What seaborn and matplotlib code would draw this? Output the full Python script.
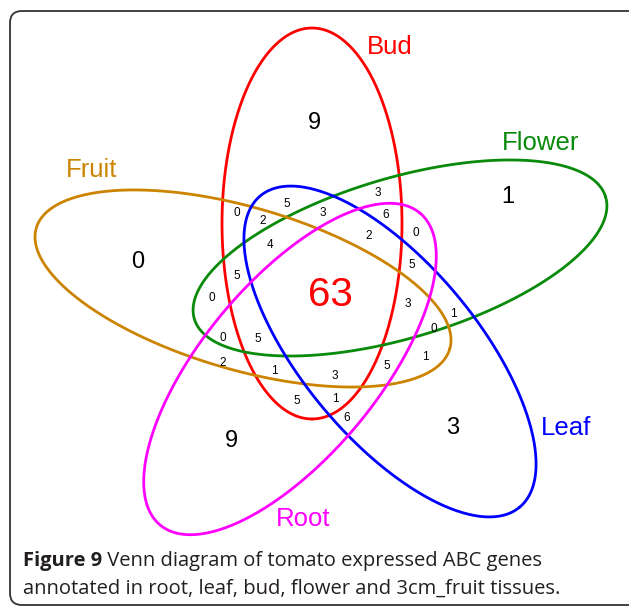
import numpy as np
import pandas as pd
import seaborn as sns
import matplotlib.pyplot as plt
from matplotlib.patches import FancyBboxPatch

# sets and colours
set_names = ['Bud', 'Flower', 'Fruit', 'Leaf', 'Root']
set_colors = ['#FF0000', '#0A8A0A', '#CC8400', '#0000FF', '#FF00FF']

# ellipse geometry (pixel coords, y pointing down)
ell_cx = [312, 400, 243, 390, 290]
ell_cy = [223.5, 258, 288.5, 351.5, 369]
ell_a = [195.5, 214.5, 215.4, 202.6, 203]
ell_b = [90, 80.1, 81.1, 87.5, 87.5]
ell_angle = [90, -16.5, 16.3, 50.2, -50.2]

# set name labels
set_label_pos = [(390, 47), (541, 143), (92, 170), (566, 428), (303, 519)]

# genes found in only one tissue
only_counts = [9, 1, 0, 3, 9]
only_pos = [(314, 123), (508, 197), (138, 262), (453, 428), (231, 441)]

# shared by all five
core_count = 63
core_pos = (330, 295)

# the other overlap regions
overlap_counts = [3, 5, 0, 2, 3, 6, 0, 2, 4, 5, 5, 0,
                  3, 1, 0, 0, 5, 2, 1, 3, 5, 1, 5, 1, 6]
overlap_pos = [(378, 193), (287, 204), (237, 213), (263, 221), (323, 213),
               (386, 215), (416, 233), (369, 236), (270, 245), (412, 265),
               (237, 276), (212, 298), (408, 304), (453, 314), (434, 329),
               (223, 338), (258, 339), (223, 363), (274, 371), (335, 376),
               (387, 366), (425, 357), (297, 401), (335, 399), (347, 418)]

# build the ellipse outlines
t = np.linspace(0, 2 * np.pi, 400)
rows = []
for i, name in enumerate(set_names):
    th = np.deg2rad(ell_angle[i])
    x = ell_cx[i] + ell_a[i] * np.cos(t) * np.cos(th) - ell_b[i] * np.sin(t) * np.sin(th)
    y = ell_cy[i] + ell_a[i] * np.cos(t) * np.sin(th) + ell_b[i] * np.sin(t) * np.cos(th)
    rows.append(pd.DataFrame({'x': x, 'y': y, 'set': name}))
outline = pd.concat(rows, ignore_index=True)

sns.set_style('white')
plt.rcParams['font.family'] = ['Liberation Sans', 'DejaVu Sans']

fig = plt.figure(figsize=(6.29, 6.07), dpi=100)
ax = fig.add_axes([0, 0, 1, 1])

sns.lineplot(data=outline, x='x', y='y', hue='set', palette=dict(zip(set_names, set_colors)),
             sort=False, estimator=None, linewidth=2, legend=False, ax=ax)

for i, name in enumerate(set_names):
    ax.text(set_label_pos[i][0], set_label_pos[i][1], name, color=set_colors[i],
            fontsize=18.5, ha='center', va='center')

for c, p in zip(only_counts, only_pos):
    ax.text(p[0], p[1], str(c), fontsize=17, ha='center', va='center', color='black')

ax.text(core_pos[0], core_pos[1], str(core_count), fontsize=29, ha='center', va='center',
        color='#FF0000')

for c, p in zip(overlap_counts, overlap_pos):
    ax.text(p[0], p[1], str(c), fontsize=8.5, ha='center', va='center', color='black')

ax.set_xlim(0, 629)
ax.set_ylim(607, 0)
ax.axis('off')

# rounded frame around the figure
frame = FancyBboxPatch((10, 11), 640, 594, boxstyle='round,pad=0,rounding_size=12',
                       fill=False, edgecolor='#333333', linewidth=1.3, clip_on=False)
ax.add_patch(frame)

# caption
cap_font = ['Open Sans', 'DejaVu Sans']
renderer = fig.canvas.get_renderer()
lines = [('Figure 9', ' Venn diagram of tomato expressed ABC genes'),
         ('', 'annotated in root, leaf, bud, flower and 3cm_fruit tissues.')]
line_y = [561, 589]
for (bold_part, rest), yy in zip(lines, line_y):
    x0 = 23
    if bold_part:
        tb = ax.text(x0, yy, bold_part, fontsize=14.5, fontweight='bold', family=cap_font,
                     color='#231F20', ha='left', va='center')
        bb = tb.get_window_extent(renderer)
        x0 = x0 + bb.width
    ax.text(x0, yy, rest, fontsize=14.5, family=cap_font, color='#231F20',
            ha='left', va='center')

fig.savefig('out.png', dpi=100)
